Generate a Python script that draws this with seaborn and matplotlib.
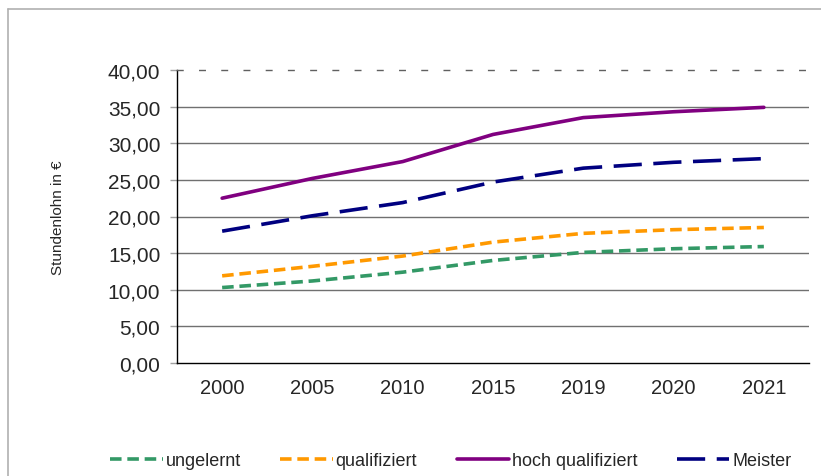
import pandas as pd
import matplotlib.pyplot as plt
import seaborn as sns
from matplotlib.lines import Line2D
from matplotlib.ticker import FuncFormatter, FixedLocator

# Daten
jahre = ['2000', '2005', '2010', '2015', '2019', '2020', '2021']
ungelernt = [10.3, 11.2, 12.4, 14.0, 15.1, 15.6, 15.9]
qualifiziert = [11.9, 13.2, 14.6, 16.5, 17.7, 18.2, 18.5]
hoch_qualifiziert = [22.5, 25.2, 27.5, 31.2, 33.5, 34.3, 34.9]
meister = [18.0, 20.1, 21.9, 24.7, 26.6, 27.4, 27.9]

serien = {
    'ungelernt': ungelernt,
    'qualifiziert': qualifiziert,
    'hoch qualifiziert': hoch_qualifiziert,
    'Meister': meister,
}
farben = {'ungelernt': '#339966', 'qualifiziert': '#FF9900',
          'hoch qualifiziert': '#800080', 'Meister': '#000080'}
striche = {'ungelernt': (0, (3.2, 1.6)), 'qualifiziert': (0, (3.2, 1.6)),
           'hoch qualifiziert': '-', 'Meister': (0, (7.8, 3.2))}

df = pd.DataFrame({'Jahr': jahre * 4,
                   'Lohn': sum(serien.values(), []),
                   'Gruppe': [g for g in serien for _ in jahre]})

sns.set_style('white')
plt.rcParams['font.family'] = ['Liberation Sans', 'DejaVu Sans']

fig = plt.figure(figsize=(8.21, 4.77), dpi=100)
ax = fig.add_axes([177 / 821, 1 - 364 / 477, 632 / 821, 293 / 477])

for g in serien:
    sub = df[df['Gruppe'] == g]
    sns.lineplot(data=sub, x='Jahr', y='Lohn', ax=ax, color=farben[g],
                 linestyle=striche[g], linewidth=2.6, label=g,
                 solid_capstyle='round', legend=False)

ax.set_xlim(-0.5, len(jahre) - 0.5)
ax.set_ylim(0, 40)
yticks = list(range(0, 41, 5))
ax.set_yticks(yticks)
ax.yaxis.set_major_formatter(FuncFormatter(lambda v, _: f"{v:.2f}".replace('.', ',')))
for v in yticks[1:-1]:
    ax.axhline(v, color='#707070', linewidth=1, zorder=0)

ax.xaxis.set_minor_locator(FixedLocator([i - 0.5 for i in range(len(jahre) + 1)]))
ax.tick_params(axis='x', which='major', length=0, pad=11, labelsize=14.5)
ax.tick_params(axis='x', which='minor', length=5, color='#a0a0a0', width=1)
ax.tick_params(axis='y', length=5, color='#a0a0a0', width=1, pad=7, labelsize=15,
               left=True)

for s in ['left', 'bottom']:
    ax.spines[s].set_color('black')
    ax.spines[s].set_linewidth(1)
ax.spines['right'].set_visible(False)
ax.spines['top'].set_color('#606060')
ax.spines['top'].set_linestyle((0, (4, 12)))
ax.spines['top'].set_linewidth(1)

ax.set_xlabel('')
ax.set_ylabel('Stundenlohn in €', fontsize=11)
ax.yaxis.set_label_coords(-0.177, 0.5)

handles = [Line2D([], [], color=farben[g], linestyle=striche[g], linewidth=2.6)
           for g in serien]
fig.legend(handles, list(serien.keys()), loc='center', ncol=4,
           bbox_to_anchor=(0.549, 1 - 462 / 477), frameon=False, fontsize=13,
           handlelength=2.9, handletextpad=0.15, columnspacing=2.2)

# Rahmen des Diagrammbereichs
fig.add_artist(Line2D([8 / 821, 8 / 821], [0, 1 - 10 / 477], color='#b0b0b0', lw=1.2))
fig.add_artist(Line2D([8 / 821, 1], [1 - 10 / 477, 1 - 10 / 477], color='#b0b0b0', lw=1.2))

fig.savefig('out.png', dpi=100)
